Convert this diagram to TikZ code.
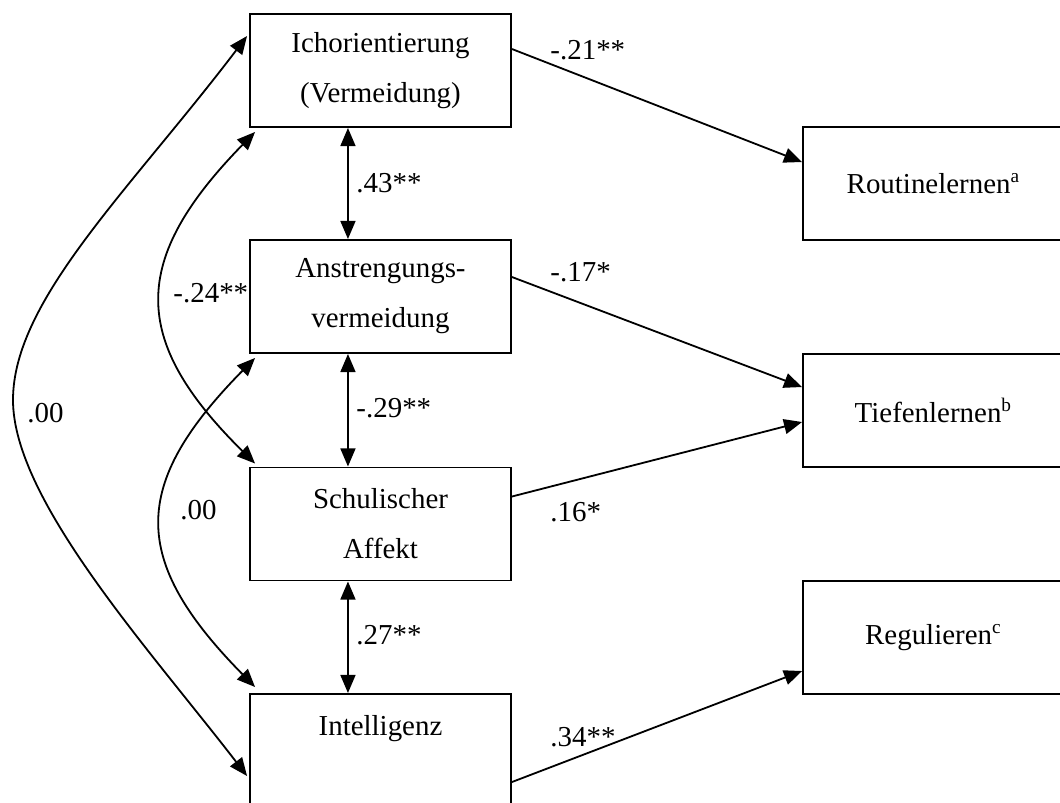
\documentclass[tikz,border=0pt]{standalone}
\usepackage{fontspec}
\setmainfont{Liberation Serif}
\usepackage{tikz}
\usetikzlibrary{calc}
\usetikzlibrary{arrows.meta}

\begin{document}
\begin{tikzpicture}[x=0.415pt,y=-0.415pt,
        box/.style={draw, line width=0.8pt, minimum width=108.3pt, minimum height=46.9pt,
            align=center, inner sep=0pt, font=\fontsize{12pt}{20.75pt}\selectfont},
        lbl/.style={anchor=west, inner sep=0pt, font=\fontsize{12pt}{14pt}\selectfont},
        path/.style={line width=0.75pt, -{Triangle[length=7.5pt,width=6.2pt]}},
        dbl/.style={line width=0.75pt, {Triangle[length=7.5pt,width=6.2pt]}-{Triangle[length=7.5pt,width=6.2pt]}}]
        \useasboundingbox (0,0) rectangle (1060,803);
        \clip (0,0) rectangle (1060,803);
        \node[box] (ich) at (380.5,70.5) {Ichorientierung\\(Vermeidung)};
        \node[box] (anstr) at (380.5,296.5) {Anstrengungs-\\vermeidung};
        \node[box] (schul) at (380.5,524) {Schulischer\\Affekt};
        \node[box] (intel) at (380.5,750.5) {Intelligenz\\\mbox{}};
        \node[box] (rout) at (933.5,183.5) {Routinelernen\textsuperscript{a}};
        \node[box] (tief) at (933.5,410.5) {Tiefenlernen\textsuperscript{b}};
        \node[box] (reg) at (933.5,637.5) {Regulieren\textsuperscript{c}};
        \draw[dbl] ([xshift=-13.5pt]ich.south) -- ([xshift=-13.5pt]anstr.north);
        \draw[dbl] ([xshift=-13.5pt]anstr.south) -- ([xshift=-13.5pt]schul.north);
        \draw[dbl] ([xshift=-13.5pt]schul.south) -- ([xshift=-13.5pt]intel.north);
        \draw[path] ($(ich.north east)+(0,36)$) -- ($(rout.north west)+(0,36)$);
        \draw[path] ($(anstr.north east)+(0,38)$) -- ($(tief.north west)+(0,34)$);
        \draw[path] ($(schul.north east)+(0,30)$) -- ($(tief.north west)+(0,69)$);
        \draw[path] ($(intel.north east)+(0,89)$) -- ($(reg.north west)+(0,91)$);
        \draw[dbl] ($(ich.north west)+(-2,23)$) .. controls (130,190) and (13,300) .. (13,400)
            .. controls (13,500) and (150,650) .. ($(intel.north west)+(-2,83)$);
        \draw[dbl] ($(ich.south west)+(6,4)$) .. controls (130,260) and (130,340) .. ($(schul.north west)+(6,-3)$);
        \draw[dbl] ($(anstr.south west)+(6,4)$) .. controls (130,485) and (130,560) .. ($(intel.north west)+(6,-6)$);
        \node[lbl] (l21) at (550,50) {-.21**};
        \node[lbl] (l17) at (550,272) {-.17*};
        \node[lbl] (l16) at (550,512) {.16*};
        \node[lbl] (l34) at (550,737) {.34**};
        \node[lbl] (l43) at (356,183) {.43**};
        \node[lbl] (l29) at (356,408) {-.29**};
        \node[lbl] (l27) at (356,635) {.27**};
        \node[lbl] (l24) at (173,293) {-.24**};
        \node[lbl] (l00a) at (27,413) {.00};
        \node[lbl] (l00b) at (180,510) {.00};
    \end{tikzpicture}
\end{document}
